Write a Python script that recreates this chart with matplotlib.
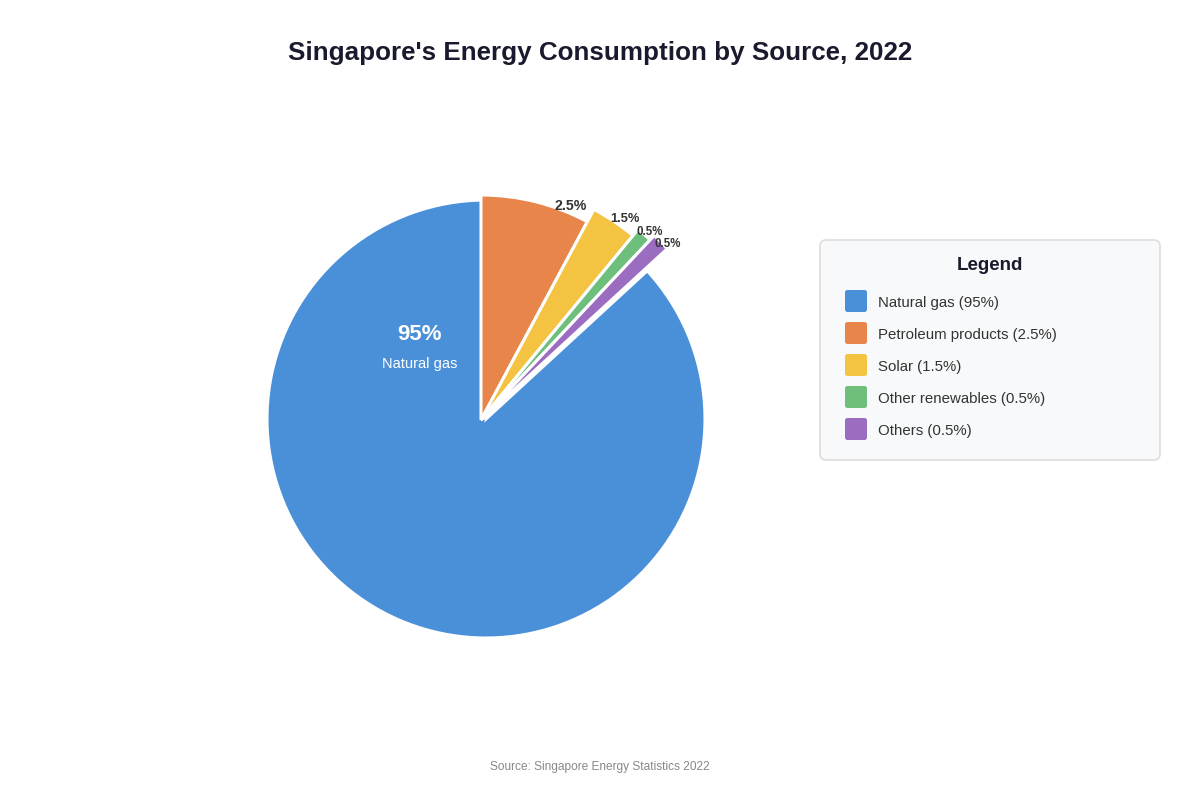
import matplotlib
matplotlib.use("Agg")
import matplotlib.pyplot as plt
from matplotlib.patches import FancyBboxPatch
import numpy as np

plt.rcParams['font.family'] = ['Liberation Sans', 'DejaVu Sans']

# ---- data ----
sources = ["Natural gas", "Petroleum products", "Solar", "Other renewables", "Others"]
shares = [95, 2.5, 1.5, 0.5, 0.5]            # percent, as labelled
share_labels = ["95%", "2.5%", "1.5%", "0.5%", "0.5%"]
slice_degrees = [312.6, 28.2, 11.3, 3.7, 4.2]  # angular size drawn in the picture
colors = ["#4A90D9", "#E8854A", "#F5C342", "#6DBF7B", "#9B6DC0"]
title = "Singapore's Energy Consumption by Source, 2022"
source_note = "Source: Singapore Energy Statistics 2022"

W, H = 1200, 800
fig = plt.figure(figsize=(12, 8), dpi=100)
ax = fig.add_axes([0, 0, 1, 1])

def P(x, y):
    return (x, H - y)

# natural gas first; small slices begin at 12 o'clock going clockwise
start = 90 - sum(slice_degrees[1:])
wedges, _ = ax.pie(slice_degrees, colors=colors, startangle=start, counterclock=False,
                   center=P(486, 419), radius=219,
                   wedgeprops=dict(edgecolor="white", linewidth=2.2))
small_radii = [None, 225, 239, 247, 253]
for w, r in zip(wedges[1:], small_radii[1:]):
    w.set_center(P(481, 420))
    w.set_radius(r)

ax.set_xlim(0, W)
ax.set_ylim(0, H)
ax.set_aspect("equal")
ax.axis("off")

# small slice labels
label_frac = [None, 0.2, 0.35, 0.38, 0.2]
label_dist = [None, 233, 248, 253, 257]
label_size = [None, 10.2, 9.3, 8.3, 8.3]
for i in range(1, 5):
    w = wedges[i]
    t1, t2 = w.theta1, w.theta2
    ang = np.deg2rad(t1 + (t2 - t1) * label_frac[i])
    cx, cy = w.center
    ax.text(cx + label_dist[i] * np.cos(ang), cy + label_dist[i] * np.sin(ang) - 1,
            share_labels[i], ha="center", va="center", fontsize=label_size[i],
            fontweight="bold", color="#333333")

# natural gas inner label
ax.text(*P(420, 334), share_labels[0], ha="center", va="center", fontsize=16,
        fontweight="bold", color="white")
ax.text(*P(420, 364), sources[0], ha="center", va="center", fontsize=10.5,
        color="white")

# title and source
ax.text(*P(600, 53), title, ha="center", va="center", fontsize=18.7,
        fontweight="bold", color="#1a1a2e")
ax.text(*P(600, 767), source_note, ha="center", va="center", fontsize=8.6,
        color="#888888")

# legend box
box = FancyBboxPatch(P(820, 460), 340, 220, boxstyle="round,pad=0,rounding_size=6",
                     facecolor="#f8f9fa", edgecolor="#dddddd", linewidth=1.2)
ax.add_patch(box)
ax.text(*P(990, 266), "Legend", ha="center", va="center", fontsize=13.5,
        fontweight="bold", color="#1a1a2e")
for i, (s, lab, c) in enumerate(zip(sources, share_labels, colors)):
    yc = 301 + 32 * i
    sq = FancyBboxPatch(P(845, yc + 11), 22, 22, boxstyle="round,pad=0,rounding_size=2.5",
                        facecolor=c, edgecolor="none")
    ax.add_patch(sq)
    ax.text(*P(878, yc + 2), f"{s} ({lab})", ha="left", va="center", fontsize=10.85,
            color="#333333")

fig.savefig("out.png", dpi=100, facecolor="white")
